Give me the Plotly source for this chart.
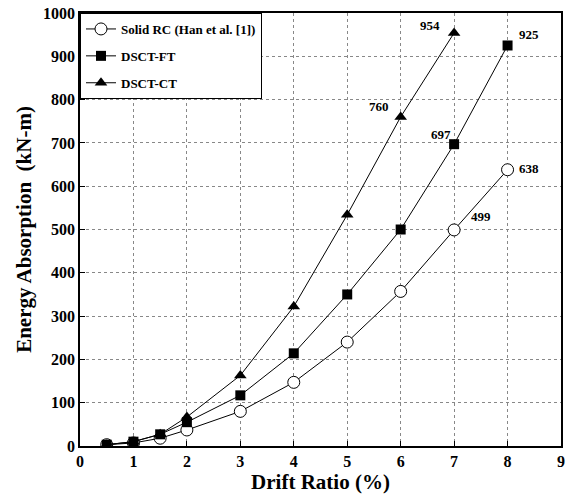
import plotly.graph_objects as go

drift = [0.5, 1, 1.5, 2, 3, 4, 5, 6, 7, 8]
solid_rc = [3, 7, 18, 37, 80, 147, 240, 357, 499, 638]
dsct_ft = [3, 10, 27, 55, 117, 214, 350, 500, 697, 925]
drift_ct = [0.5, 1, 1.5, 2, 3, 4, 5, 6, 7]
dsct_ct = [3, 10, 27, 67, 163, 322, 534, 760, 954]

labels_x = [6.55, 8.4, 5.6, 6.75, 7.5, 8.4]
labels_y = [970, 950, 785, 720, 530, 640]
labels_t = ["954", "925", "760", "697", "499", "638"]

FONT = "Liberation Serif"

fig = go.Figure()
fig.add_trace(go.Scatter(x=drift, y=solid_rc, mode="lines+markers", name="Solid RC (Han et al. [1])",
                         legendgroup="a",
                         line=dict(color="black", width=1),
                         marker=dict(symbol="circle", size=12, color="white", line=dict(color="black", width=1))))
fig.add_trace(go.Scatter(x=drift, y=dsct_ft, mode="lines+markers", name="DSCT-FT",
                         legendgroup="b",
                         line=dict(color="black", width=1),
                         marker=dict(symbol="square", size=10, color="black")))
fig.add_trace(go.Scatter(x=drift_ct, y=dsct_ct, mode="lines+markers", name="DSCT-CT",
                         legendgroup="c",
                         line=dict(color="black", width=1),
                         marker=dict(symbol="triangle-up", size=11, color="black")))

for x, y, t in zip(labels_x, labels_y, labels_t):
    fig.add_annotation(x=x, y=y, text=t, showarrow=False,
                       font=dict(family=FONT, size=13, color="black", weight="bold"))

axis_common = dict(showline=True, linecolor="black", linewidth=1.5, mirror=True,
                   ticks="inside", ticklen=5, tickcolor="black",
                   showgrid=True, gridcolor="#888", griddash="dot", gridwidth=1,
                   zeroline=False,
                   tickfont=dict(family=FONT, size=16, color="black", weight="bold"))

fig.update_layout(
    width=567, height=494,
    margin=dict(l=80, r=2, t=13, b=48),
    paper_bgcolor="white", plot_bgcolor="white",
    xaxis=dict(range=[0, 9], dtick=1, **axis_common,
               title=dict(text="Drift Ratio (%)", font=dict(family=FONT, size=21, color="black", weight="bold"), standoff=4)),
    yaxis=dict(range=[0, 1000], dtick=100, **axis_common,
               title=dict(text="Energy Absorption  (kN-m)", font=dict(family=FONT, size=21, color="black", weight="bold"), standoff=6)),
    legend=dict(x=0, y=1, xanchor="left", yanchor="top", bgcolor="white",
                bordercolor="black", borderwidth=1,
                font=dict(family=FONT, size=13, color="black", weight="bold"),
                itemwidth=30, tracegroupgap=7),
    showlegend=True,
)

fig.write_html("out.html")
